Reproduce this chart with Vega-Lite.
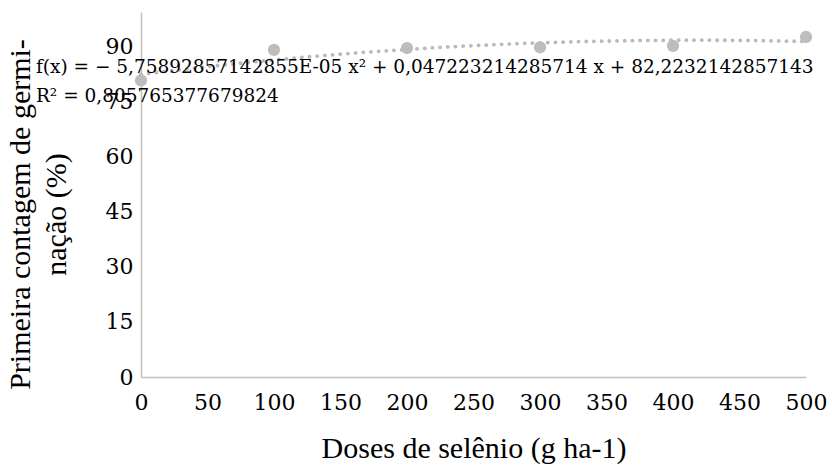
{
  "$schema": "https://vega.github.io/schema/vega-lite/v6.json",
  "width": 665,
  "height": 365,
  "autosize": {"type": "none"},
  "padding": {"left": 141, "top": 12, "right": 26, "bottom": 95},
  "background": "white",
  "config": {
    "view": {"stroke": null},
    "axis": {
      "labelColor": "black",
      "titleColor": "black",
      "titleFontWeight": "normal",
      "grid": false,
      "ticks": false,
      "domainColor": "#bfbfbf",
      "domainWidth": 1.5
    }
  },
  "datasets": {
    "points": [
      {"dose": 0, "value": 80.7},
      {"dose": 100, "value": 89.0},
      {"dose": 200, "value": 89.5},
      {"dose": 300, "value": 89.7},
      {"dose": 400, "value": 90.1},
      {"dose": 500, "value": 92.5}
    ],
    "notes": [
      {"line": "f(x) = − 5,75892857142855E-05 x² + 0,047223214285714 x + 82,2232142857143", "row": 1},
      {"line": "R² = 0,805765377679824", "row": 2}
    ]
  },
  "layer": [
    {
      "data": {"name": "points"},
      "transform": [
        {"regression": "value", "on": "dose", "method": "poly", "order": 2, "extent": [0, 500]}
      ],
      "mark": {"type": "line", "color": "#bababa", "strokeWidth": 3.8, "strokeDash": [0.1, 7.6], "strokeCap": "round"},
      "encoding": {
        "x": {
          "field": "dose",
          "type": "quantitative",
          "scale": {"domain": [0, 500], "nice": false, "zero": false},
          "axis": {
            "title": "Doses de selênio (g ha-1)",
            "values": [0, 50, 100, 150, 200, 250, 300, 350, 400, 450, 500],
            "labelFont": "DejaVu Serif",
            "titleFont": "Liberation Serif",
            "labelFontSize": 22,
            "labelPadding": 15,
            "labelFlush": false,
            "titleFontSize": 30,
            "titlePadding": 20
          }
        },
        "y": {
          "field": "value",
          "type": "quantitative",
          "scale": {"domain": [0, 99.3], "nice": false},
          "axis": {
            "title": ["Primeira contagem de germi-", "nação (%)"],
            "values": [0, 15, 30, 45, 60, 75, 90],
            "labelFont": "DejaVu Serif",
            "titleFont": "Liberation Serif",
            "labelFontSize": 22,
            "labelPadding": 8,
            "labelFlush": false,
            "titleFontSize": 30,
            "titleLineHeight": 36,
            "titlePadding": 34,
            "titleY": 202
          }
        }
      }
    },
    {
      "data": {"name": "points"},
      "mark": {"type": "circle", "color": "#bdbdbd", "opacity": 1, "size": 150},
      "encoding": {
        "x": {"field": "dose", "type": "quantitative"},
        "y": {"field": "value", "type": "quantitative"}
      }
    },
    {
      "data": {"name": "notes"},
      "transform": [{"filter": "datum.row == 1"}],
      "mark": {"type": "text", "align": "left", "baseline": "middle", "fontSize": 18.5, "font": "DejaVu Serif", "color": "black"},
      "encoding": {"x": {"datum": -79}, "y": {"datum": 84.4}, "text": {"field": "line"}}
    },
    {
      "data": {"name": "notes"},
      "transform": [{"filter": "datum.row == 2"}],
      "mark": {"type": "text", "align": "left", "baseline": "middle", "fontSize": 18.5, "font": "DejaVu Serif", "color": "black"},
      "encoding": {"x": {"datum": -79}, "y": {"datum": 76.5}, "text": {"field": "line"}}
    }
  ]
}
